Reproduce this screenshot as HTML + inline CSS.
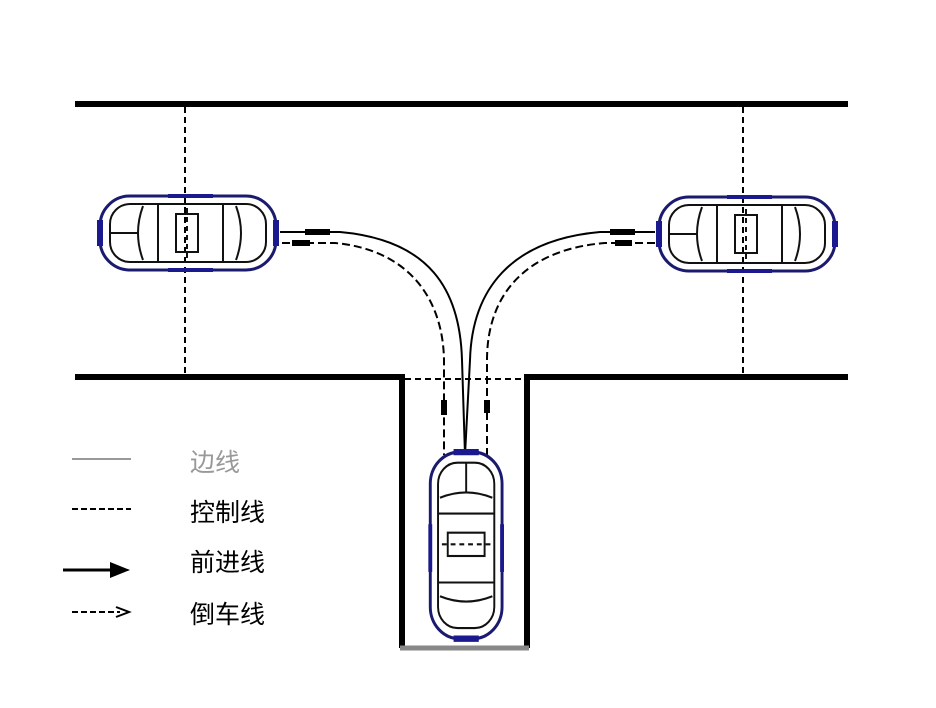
<!DOCTYPE html>
<html><head><meta charset="utf-8"><style>
html,body{margin:0;padding:0;background:#fff;}
svg{display:block;}
text{font-family:"Liberation Sans","Noto Sans CJK SC",sans-serif;font-size:25px;}
</style></head><body>
<svg width="936" height="708" viewBox="0 0 936 708">
<defs>
<g id="car" fill="none" stroke="#111" stroke-width="2">
  <rect x="2" y="2" width="176" height="74" rx="30" ry="30" stroke="#1a1a6e" stroke-width="3"/>
  <rect x="12" y="10" width="156" height="58" rx="20" ry="20"/>
  <path d="M45 12 Q35 39 45 66"/>
  <path d="M60 10 L60 68"/>
  <path d="M138 12 Q148 39 138 66"/>
  <path d="M125 10 L125 68"/>
  <rect x="78" y="20" width="22" height="38"/>
  <path d="M89 14 L89 64" stroke-dasharray="5 4"/>
  <path d="M12 39 L40 39"/>
  <path d="M178 26 L178 52" stroke="#1a1a8e" stroke-width="6"/>
  <path d="M2 26 L2 52" stroke="#1a1a8e" stroke-width="6"/>
  <path d="M70 2 L115 2 M70 76 L115 76" stroke="#1a1a8e" stroke-width="4"/>
</g>
</defs>
<!-- road edges -->
<g stroke="#000" stroke-width="6" fill="none">
  <path d="M75 104 L848 104"/>
  <path d="M75 377 L402 377 L402 648"/>
  <path d="M848 377 L527 377 L527 648"/>
</g>
<path d="M400 648 L529 648" stroke="#888" stroke-width="5"/>
<!-- control lines -->
<g stroke="#000" stroke-width="2" fill="none" stroke-dasharray="6 4">
  <path d="M185 107 L185 374"/>
  <path d="M743 107 L743 374"/>
  <path d="M405 379 L524 379"/>
</g>
<!-- forward lines (solid) -->
<g stroke="#000" stroke-width="2" fill="none">
  <path d="M280 232 L340 232 C430 240 460 290 462 360 L465 455"/>
  <path d="M655 232 L600 232 C510 240 472 290 470 360 L465 455"/>
  <path d="M305 232 L330 232 M610 232 L635 232" stroke-width="6"/>
</g>
<!-- reverse lines (dashed) -->
<g stroke="#000" stroke-width="2" fill="none" stroke-dasharray="8 4">
  <path d="M282 243 L335 243 C410 250 443 300 444 360 L444 455"/>
  <path d="M655 243 L605 243 C520 250 487 300 487 360 L487 455"/>
</g>
<path d="M292 243 L310 243 M615 243 L632 243 M444 400 L444 415 M487 400 L487 413" stroke="#000" stroke-width="6"/>
<!-- cars -->
<use href="#car" transform="translate(98,194)"/>
<use href="#car" transform="translate(657,195)"/>
<use href="#car" transform="translate(504,450) rotate(90) scale(1.06,0.97)"/>
<!-- legend -->
<path d="M72 459 L131 459" stroke="#999" stroke-width="2"/>
<path d="M72 509 L131 509" stroke="#000" stroke-width="2" stroke-dasharray="6 3"/>
<path d="M63 570 L112 570" stroke="#000" stroke-width="3"/>
<path d="M110 562 L130 570 L110 578 Z" fill="#000"/>
<path d="M72 612 L120 612" stroke="#000" stroke-width="2" stroke-dasharray="6 3"/>
<path d="M116 607 L129 612 L116 617" stroke="#000" stroke-width="2" fill="none"/>
<text x="190" y="471" fill="#999">边线</text>
<text x="190" y="521" fill="#000">控制线</text>
<text x="190" y="571" fill="#000">前进线</text>
<text x="190" y="623" fill="#000">倒车线</text>
</svg>
</body></html>
